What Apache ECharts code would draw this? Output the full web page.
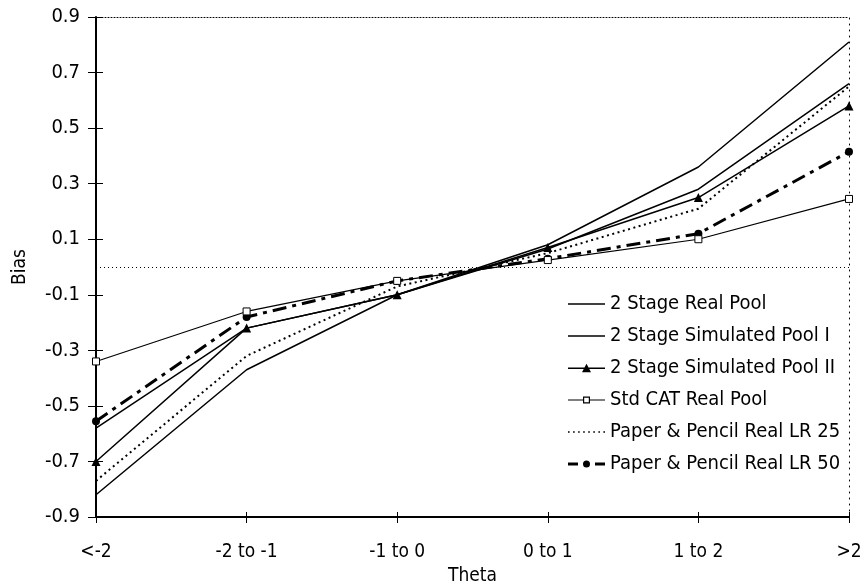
<!DOCTYPE html>
<html>
<head>
<meta charset="utf-8">
<script src="https://cdn.jsdelivr.net/npm/echarts@6/dist/echarts.min.js"></script>
<style>
html,body{margin:0;padding:0;background:#fff;}
#chart{width:861px;height:581px;}
</style>
</head>
<body>
<div id="chart"></div>
<script>
var categories = ['<-2', '-2 to -1', '-1 to 0', '0 to 1', '1 to 2', '>2'];
var yTicks = [-0.9, -0.7, -0.5, -0.3, -0.1, 0.1, 0.3, 0.5, 0.7, 0.9];
var seriesNames = ['2 Stage Real Pool', '2 Stage Simulated Pool I', '2 Stage Simulated Pool II',
                   'Std CAT Real Pool', 'Paper & Pencil Real LR 25', 'Paper & Pencil Real LR 50'];
var realPool = [-0.82, -0.37, -0.10, 0.08, 0.36, 0.81];
var simPool1 = [-0.58, -0.22, -0.10, 0.065, 0.28, 0.66];
var simPool2 = [-0.70, -0.22, -0.10, 0.07, 0.25, 0.58];
var stdCat = [-0.34, -0.16, -0.05, 0.025, 0.10, 0.245];
var lr25 = [-0.77, -0.32, -0.07, 0.05, 0.21, 0.65];
var lr50 = [-0.555, -0.18, -0.05, 0.03, 0.12, 0.415];

var FONT = "'DejaVu Sans Condensed', 'DejaVu Sans', sans-serif";
var chart = echarts.init(document.getElementById('chart'), null, {renderer: 'canvas'});
var yMin = yTicks[0], yMax = yTicks[yTicks.length - 1];

// legend icon shapes (drawn in a 37 x 14 box)
var iconSolid = 'path://M0,6.3L37,6.3L37,7.7L0,7.7Z';
var iconTri = 'path://M0,6.3L37,6.3L37,7.7L0,7.7Z M18.5,2.5L23,11L14,11Z';
var iconRect = 'path://M0,6.4L15,6.4L15,7.6L0,7.6Z M22,6.4L37,6.4L37,7.6L22,7.6Z M15,3.5L22,3.5L22,10.5L15,10.5Z M16.2,4.7L16.2,9.3L20.8,9.3L20.8,4.7Z';
var dots = [];
for (var i = 0; i < 8; i++) {
  var x0 = 1 + i * 5;
  dots.push('M' + x0 + ',6.2L' + (x0 + 1.6) + ',6.2L' + (x0 + 1.6) + ',7.8L' + x0 + ',7.8Z');
}
var iconDot = 'path://' + dots.join(' ');
var iconDashDot = 'path://M0,5.5L10,5.5L10,8.5L0,8.5Z M27,5.5L37,5.5L37,8.5L27,8.5Z M15,7A3.5,3.5,0,1,1,22,7A3.5,3.5,0,1,1,15,7Z';
var icons = [iconSolid, iconSolid, iconTri, iconRect, iconDot, iconDashDot];

var legendData = seriesNames.map(function (n, k) {
  return {name: n, icon: icons[k], itemStyle: {color: '#000', borderWidth: 0, opacity: 1}};
});

function yAxisBase(extra) {
  var o = {type: 'value', min: yMin, max: yMax, interval: 0.2, splitLine: {show: false}};
  for (var k in extra) o[k] = extra[k];
  return o;
}
function xAxisBase(extra) {
  var o = {type: 'category', data: categories, boundaryGap: false, splitLine: {show: false}};
  for (var k in extra) o[k] = extra[k];
  return o;
}

var option = {
  backgroundColor: '#fff',
  animation: false,
  textStyle: {fontFamily: FONT, color: '#000'},
  grid: {left: 96, right: 12, top: 17, bottom: 64, containLabel: false, outerBoundsMode: 'none'},
  legend: {
    orient: 'vertical',
    left: 563,
    top: 289,
    itemWidth: 37,
    itemHeight: 14,
    itemGap: 12,
    symbolKeepAspect: true,
    textStyle: {fontFamily: FONT, fontSize: 20, lineHeight: 20, color: '#000'},
    data: legendData
  },
  xAxis: [
    xAxisBase({
      position: 'bottom',
      name: 'Theta', nameLocation: 'middle', nameGap: 41,
      nameTextStyle: {fontFamily: FONT, fontSize: 19, color: '#000'},
      axisLine: {show: true, onZero: false, lineStyle: {color: '#000', width: 2}},
      axisTick: {show: true, inside: false, length: 6, interval: 0, lineStyle: {color: '#000', width: 1}},
      axisLabel: {interval: 0, margin: 26, fontFamily: FONT, fontSize: 19, color: '#000'}
    }),
    xAxisBase({
      position: 'bottom',
      axisLine: {show: false, onZero: false},
      axisTick: {show: true, inside: true, length: 5, interval: 0, lineStyle: {color: '#000', width: 1}},
      axisLabel: {show: false}
    }),
    xAxisBase({
      position: 'top',
      axisLine: {show: true, onZero: false, lineStyle: {color: '#000', width: 1, type: [1, 2]}},
      axisTick: {show: false}, axisLabel: {show: false}
    })
  ],
  yAxis: [
    yAxisBase({
      position: 'left',
      name: 'Bias', nameLocation: 'middle', nameGap: 66, nameRotate: 90,
      nameTextStyle: {fontFamily: FONT, fontSize: 19, color: '#000'},
      axisLine: {show: true, onZero: false, lineStyle: {color: '#000', width: 2}},
      axisTick: {show: true, inside: false, length: 8, lineStyle: {color: '#000', width: 1}},
      axisLabel: {margin: 16, fontFamily: FONT, fontSize: 20, color: '#000',
                  formatter: function (v) { return v.toFixed(1); }}
    }),
    yAxisBase({
      position: 'left',
      axisLine: {show: false, onZero: false},
      axisTick: {show: true, inside: true, length: 7, lineStyle: {color: '#000', width: 1}},
      axisLabel: {show: false}
    }),
    yAxisBase({
      position: 'right',
      axisLine: {show: true, onZero: false, lineStyle: {color: '#000', width: 1, type: [1, 5]}},
      axisTick: {show: false}, axisLabel: {show: false}
    })
  ],
  series: [
    {
      name: seriesNames[0], type: 'line', data: realPool,
      symbol: 'none', showSymbol: false, z: 3,
      lineStyle: {color: '#000', width: 1.5, type: 'solid'}, itemStyle: {color: '#000'},
      markLine: {
        silent: true, symbol: 'none', label: {show: false}, z: 1,
        lineStyle: {color: '#000', width: 1, type: [1, 3]},
        data: [{yAxis: 0}]
      }
    },
    {
      name: seriesNames[1], type: 'line', data: simPool1,
      symbol: 'none', showSymbol: false, z: 3,
      lineStyle: {color: '#000', width: 1.5, type: 'solid'}, itemStyle: {color: '#000'}
    },
    {
      name: seriesNames[2], type: 'line', data: simPool2,
      symbol: 'triangle', symbolSize: 9, z: 4,
      lineStyle: {color: '#000', width: 1.5, type: 'solid'}, itemStyle: {color: '#000'}
    },
    {
      name: seriesNames[3], type: 'line', data: stdCat,
      symbol: 'rect', symbolSize: 7, z: 5,
      lineStyle: {color: '#000', width: 1.2, type: 'solid'},
      itemStyle: {color: '#fff', borderColor: '#000', borderWidth: 1}
    },
    {
      name: seriesNames[4], type: 'line', data: lr25,
      symbol: 'none', showSymbol: false, z: 3,
      lineStyle: {color: '#000', width: 2, type: [2, 3.5]}, itemStyle: {color: '#000'}
    },
    {
      name: seriesNames[5], type: 'line', data: lr50,
      symbol: 'circle', symbolSize: 8, z: 4,
      lineStyle: {color: '#000', width: 3, type: [14, 6, 4, 6]}, itemStyle: {color: '#000'}
    }
  ]
};
chart.setOption(option);
</script>
</body>
</html>
